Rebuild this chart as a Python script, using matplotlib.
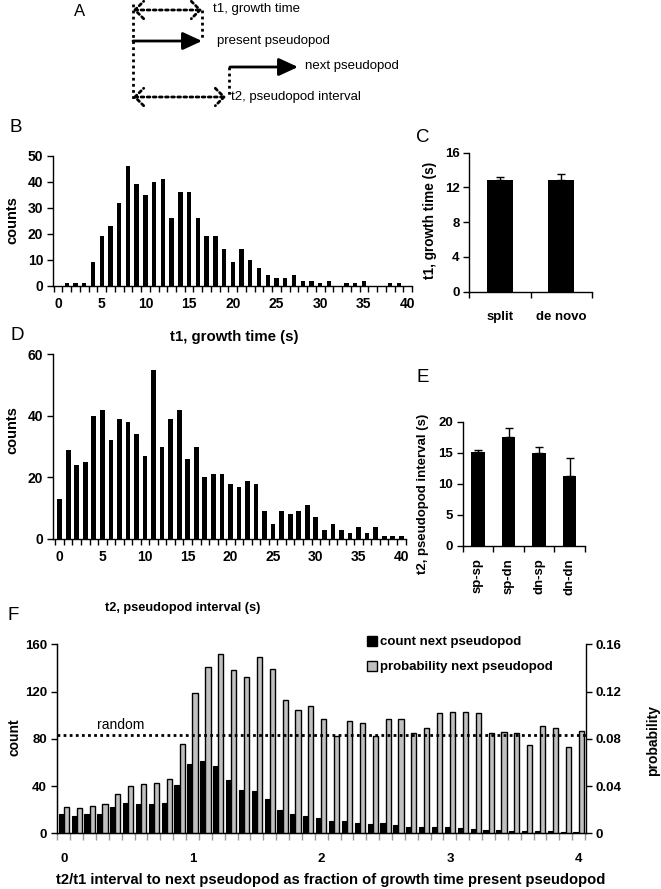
import numpy as np
import matplotlib.pyplot as plt
from matplotlib.patches import Patch

plt.rcParams['font.family'] = ['Liberation Sans', 'DejaVu Sans']
plt.rcParams['font.weight'] = 'bold'
plt.rcParams['axes.labelweight'] = 'bold'

W, H = 661, 889

# B: histogram of t1, growth time (s)
t1_time = list(range(0, 41))
t1_counts = [0, 1, 1, 1, 9, 19, 23, 32, 46, 39, 35, 40, 41, 26, 36, 36, 26, 19, 19, 14,
             9, 14, 10, 7, 4, 3, 3, 4, 2, 2, 1, 2, 0, 1, 1, 2, 0, 0, 1, 1, 0]

# C: mean t1 by pseudopod type
c_labels = ['split', 'de novo']
c_means = [12.9, 12.85]
c_err = [0.3, 0.65]

# D: histogram of t2, pseudopod interval (s)
t2_time = list(range(0, 41))
t2_counts = [13, 29, 24, 25, 40, 42, 32, 39, 38, 34, 27, 55, 30, 39, 42, 26, 30, 20, 21, 21,
             18, 17, 19, 18, 9, 5, 9, 8, 9, 11, 7, 3, 5, 3, 2, 4, 2, 4, 1, 1, 1]

# E: mean t2 by pair type
e_labels = ['sp-sp', 'sp-dn', 'dn-sp', 'dn-dn']
e_means = [15.05, 17.6, 14.9, 11.3]
e_err = [0.45, 1.45, 1.05, 2.8]

# F: t2/t1 in bins of 0.1
f_ratio = [i / 10 for i in range(41)]
f_count = [16, 15, 16, 16, 22, 26, 25, 25, 26, 41, 59, 61, 57, 45, 37, 36, 29, 20, 16, 15,
           13, 10, 10, 9, 8, 8.5, 7, 5.5, 5, 5, 5, 4.5, 3.7, 2.8, 2.8, 2, 1.7, 2, 1.7, 0.8, 0.8]
f_prob = [0.022, 0.021, 0.023, 0.025, 0.033, 0.040, 0.042, 0.043, 0.046, 0.076, 0.119, 0.141,
          0.152, 0.138, 0.132, 0.149, 0.139, 0.113, 0.104, 0.108, 0.097, 0.082, 0.095, 0.093,
          0.082, 0.097, 0.097, 0.085, 0.089, 0.102, 0.103, 0.103, 0.102, 0.085, 0.086, 0.085,
          0.075, 0.091, 0.089, 0.073, 0.087]
f_random = 0.083
f_ticklabels = ['0', '1', '2', '3', '4']


def box(l, t, r, b):
    return [l / W, 1 - b / H, (r - l) / W, (b - t) / H]


def style(ax, size=10):
    for s in ['top', 'right']:
        ax.spines[s].set_visible(False)
    for s in ['left', 'bottom']:
        ax.spines[s].set_linewidth(1.0)
    ax.tick_params(which='both', direction='out', width=1.0, length=4, labelsize=size, pad=3)


fig = plt.figure(figsize=(W / 100, H / 100), dpi=100)

# ---- A: schematic ----
ax0 = fig.add_axes([0, 0, 1, 1])
ax0.set_xlim(0, W)
ax0.set_ylim(H, 0)
ax0.axis('off')
dot = dict(color='black', lw=2, ls=(0, (1, 1.2)))
ax0.plot([133, 133], [4, 99], **dot)
ax0.plot([202, 202], [10, 38], **dot)
ax0.plot([229, 229], [67, 97], **dot)
dbl = dict(arrowstyle='<->,head_length=0.35,head_width=0.35', lw=2, ls=(0, (1, 1.2)),
           color='black', shrinkA=0, shrinkB=0, mutation_scale=18)
ax0.annotate('', xy=(202, 10), xytext=(133, 10), arrowprops=dbl)
ax0.annotate('', xy=(226, 97), xytext=(133, 97), arrowprops=dbl)
sol = dict(arrowstyle='-|>,head_length=0.65,head_width=0.3', lw=2, color='black',
           shrinkA=0, shrinkB=0, mutation_scale=18)
ax0.annotate('', xy=(202, 41), xytext=(133, 41), arrowprops=sol)
ax0.annotate('', xy=(298, 67), xytext=(230, 67), arrowprops=sol)
tA = dict(fontsize=9.5, fontweight='normal', va='center', ha='left')
ax0.text(213, 9, 't1, growth time', **tA)
ax0.text(217, 41, 'present pseudopod', **tA)
ax0.text(305, 66, 'next pseudopod', **tA)
ax0.text(231, 97, 't2, pseudopod interval', **tA)

for lab, x, y, fs in [('A', 80, 12, 12), ('B', 16, 128, 13.5), ('C', 423, 137, 13.5),
                      ('D', 17, 335, 13.5), ('E', 423, 377, 13.5), ('F', 13, 615, 13.5)]:
    ax0.text(x, y, lab, fontsize=fs, fontweight='normal', ha='center', va='center')

# ---- B ----
axB = fig.add_axes(box(53, 155.7, 412, 285.7))
axB.bar(t1_time, t1_counts, width=0.5, color='black')
axB.set_xlim(-0.57, 40.46)
axB.set_ylim(0, 50)
axB.set_yticks([0, 10, 20, 30, 40, 50])
axB.set_xticks(range(0, 41, 5))
axB.set_xticks(np.arange(-0.5, 41, 1), minor=True)
style(axB)
axB.tick_params(axis='x', which='major', length=0, pad=8)
axB.set_ylabel('counts', fontsize=10.5, va='center')
axB.yaxis.set_label_coords(-0.114, 0.505)
axB.set_xlabel('t1, growth time (s)', fontsize=10.8, va='center')
axB.xaxis.set_label_coords(0.504, -0.395)

# ---- C ----
axC = fig.add_axes(box(469.3, 152.7, 591.7, 291.7))
axC.bar(range(len(c_labels)), c_means, width=0.42, color='black',
        yerr=[[0] * len(c_err), c_err], error_kw=dict(ecolor='black', elinewidth=1, capsize=3, capthick=1))
axC.set_xlim(-0.5, 1.5)
axC.set_ylim(0, 16)
axC.set_yticks([0, 4, 8, 12, 16])
axC.set_xticks(range(len(c_labels)))
axC.set_xticklabels(c_labels)
axC.set_xticks([-0.5, 0.5, 1.5], minor=True)
style(axC, 9.5)
axC.tick_params(axis='x', which='major', length=0, pad=14, labelsize=9.5)
axC.set_ylabel('t1, growth time (s)', fontsize=9.8, va='center')
axC.yaxis.set_label_coords(-0.32, 0.51)

# ---- D ----
axD = fig.add_axes(box(53, 354.3, 405.5, 539))
axD.bar(t2_time, t2_counts, width=0.55, color='black')
axD.set_xlim(-0.78, 40.44)
axD.set_ylim(0, 60)
axD.set_yticks([0, 20, 40, 60])
axD.set_xticks(range(0, 41, 5))
axD.set_xticks(np.arange(-0.5, 41, 1), minor=True)
style(axD)
axD.tick_params(axis='x', which='major', length=0, pad=8)
axD.set_ylabel('counts', fontsize=10.5, va='center')
axD.yaxis.set_label_coords(-0.116, 0.59)
axD.set_xlabel('t2, pseudopod interval (s)', fontsize=9.2, va='center')
axD.xaxis.set_label_coords(0.368, -0.374)

# ---- E ----
axE = fig.add_axes(box(462.7, 421.6, 585, 546))
axE.bar(range(len(e_labels)), e_means, width=0.44, color='black',
        yerr=[[0] * len(e_err), e_err], error_kw=dict(ecolor='black', elinewidth=1, capsize=3, capthick=1))
axE.set_xlim(-0.5, 3.5)
axE.set_ylim(0, 20)
axE.set_yticks([0, 5, 10, 15, 20])
axE.set_xticks(range(len(e_labels)))
axE.set_xticklabels(e_labels, rotation=90)
axE.set_xticks(np.arange(-0.5, 4, 1), minor=True)
style(axE, 9.5)
axE.tick_params(axis='x', which='major', length=0, pad=9)
axE.set_ylabel('t2, pseudopod interval (s)', fontsize=9.5, va='center')
axE.yaxis.set_label_coords(-0.325, 0.42)

# ---- F ----
axF = fig.add_axes(box(56.7, 644.3, 585.7, 833.3))
pos = np.arange(len(f_ratio))
axF.bar(pos - 0.2, f_count, width=0.4, color='black', edgecolor='black', linewidth=0.8)
axF2 = axF.twinx()
axF2.bar(pos + 0.2, f_prob, width=0.4, color='#c0c0c0', edgecolor='black', linewidth=1)
axF2.axhline(f_random, color='black', lw=2, ls=(0, (1, 1.2)))
axF.set_xlim(-0.55, 40.55)
axF.set_ylim(0, 160)
axF2.set_ylim(0, 0.16)
axF.set_yticks([0, 40, 80, 120, 160])
axF2.set_yticks([0, 0.04, 0.08, 0.12, 0.16])
axF2.set_yticklabels(['0', '0.04', '0.08', '0.12', '0.16'])
axF.set_xticks(range(0, 41, 10))
axF.set_xticklabels(f_ticklabels)
axF.set_xticks(np.arange(-0.5, 41, 1), minor=True)
style(axF, 9.5)
axF2.spines['top'].set_visible(False)
axF2.spines['right'].set_linewidth(1.0)
axF2.tick_params(direction='out', width=1.0, length=4, labelsize=9.5, pad=3)
axF.tick_params(axis='x', which='major', length=0, pad=14)
axF.tick_params(axis='x', which='minor', color='#999999', length=5)
axF.set_ylabel('count', fontsize=10, va='center')
axF.yaxis.set_label_coords(-0.079, 0.51)
axF2.set_ylabel('probability', fontsize=10, va='center')
axF2.yaxis.set_label_coords(1.127, 0.49)
axF.set_xlabel('t2/t1 interval to next pseudopod as fraction of growth time present pseudopod',
               fontsize=10.6, va='center')
axF.xaxis.set_label_coords(0.517, -0.247)
axF2.text(2.6, 0.0917, 'random', fontsize=10, fontweight='normal', ha='left', va='center')
handles = [Patch(facecolor='black', edgecolor='black'),
           Patch(facecolor='#c0c0c0', edgecolor='black')]
axF2.legend(handles, ['count next pseudopod', 'probability next pseudopod'],
            loc='upper left', bbox_to_anchor=(367 / W, 1 - 636 / H), bbox_transform=fig.transFigure,
            frameon=False, fontsize=9.5, handlelength=0.75, handleheight=0.75, handletextpad=0.2,
            labelspacing=0.95, borderpad=0, borderaxespad=0)

fig.savefig('out.png', dpi=100)
